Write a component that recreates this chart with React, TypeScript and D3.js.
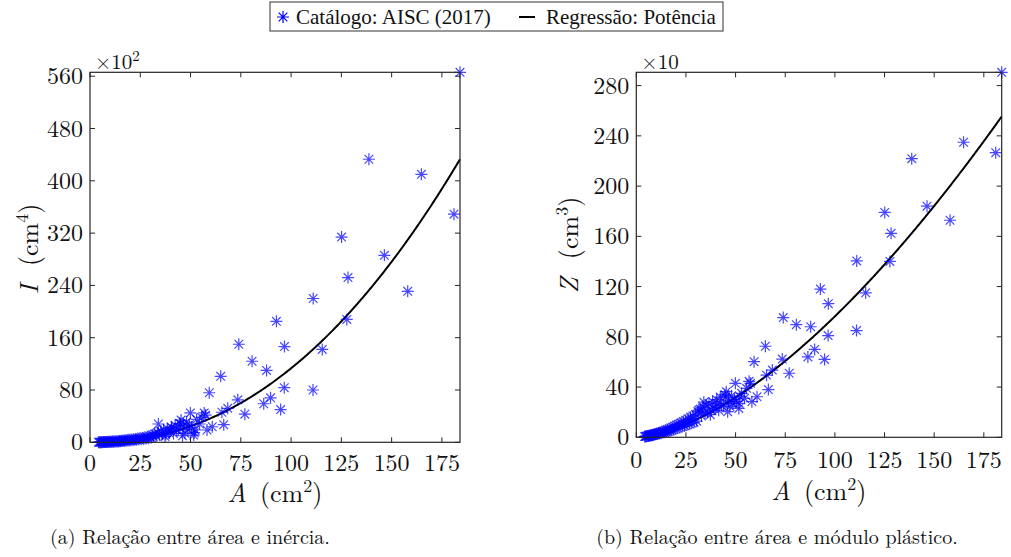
import React from "react";
import * as d3 from "d3";

// W-shape sections: gross area, moment of inertia and plastic modulus
const areaCm2 = [
  4.2, 4.6, 5.0, 5.3, 5.7, 6.1, 6.5, 6.8, 7.2, 7.6, 8.0, 8.3, 8.7, 9.1, 9.5, 9.9,
  10.3, 10.7, 11.2, 11.6, 12.0, 12.4, 12.9, 13.3, 13.8, 14.2, 14.7, 15.1, 15.6, 16.0,
  16.5, 17.0, 17.4, 17.9, 18.4, 18.9, 19.4, 19.9, 20.4, 20.9, 21.5, 22.0, 22.6, 23.1,
  23.7, 24.3, 24.9, 25.5, 26.1, 26.7, 27.3, 27.9, 28.5, 29.1, 29.8, 30.4, 31.0, 31.5,
  32.2, 32.8, 33.5, 34.0, 34.6, 35.2, 35.9, 36.6, 37.3, 37.7, 38.4, 39.1, 39.8, 40.5,
  40.7, 41.5, 42.3, 43.0, 43.9, 44.6, 45.0, 45.3, 46.0, 46.5, 47.2, 48.0, 48.6, 49.4,
  49.9, 50.5, 51.6, 51.8, 52.2, 53.0, 54.5, 55.5, 56.8, 57.5, 58.2, 59.3, 60.8,
  65.0, 65.6, 66.5, 68.5, 73.5, 74.0, 77.0, 80.6, 86.4, 87.8, 89.8, 92.7, 94.8,
  96.6, 96.7, 110.9, 111.0, 115.5, 125.1, 127.7, 128.3, 138.7, 146.4, 158.0, 164.8,
  181.0, 184.0,
];

const inertiaCm4 = [
  10, 12, 18, 15, 26, 22, 35, 30, 48, 40, 56, 45, 70, 62, 85, 74,
  100, 88, 118, 95, 132, 110, 155, 128, 178, 140, 205, 160, 230, 185,
  262, 210, 300, 235, 340, 262, 380, 290, 430, 320, 470, 350, 520, 390,
  580, 430, 640, 470, 700, 520, 780, 570, 850, 620, 930, 680, 1100, 900,
  1300, 950, 1450, 2800, 1150, 1700, 1250, 1900, 900, 1200, 2100, 1500, 1700, 2300,
  2200, 1350, 2600, 1900, 1880, 2900, 2800, 3400, 1000, 2500, 1370, 3100, 2000, 2700,
  4500, 2300, 1100, 1470, 1880, 3500, 2800, 3800, 4500, 4170, 1880, 7580, 2380,
  10100, 4600, 2700, 5200, 6500, 15000, 4300, 12400, 5900, 11000, 6800, 18500, 5000,
  8350, 14650, 8000, 22000, 14200, 31400, 18800, 25200, 43300, 28600, 23100, 41000,
  34900, 56600,
];

const plasticModulusCm3 = [
  6, 7, 9, 8, 11, 10, 14, 12, 17, 15, 19, 16, 23, 21, 27, 24,
  30, 27, 35, 30, 38, 33, 44, 38, 49, 40, 55, 44, 60, 48,
  67, 53, 74, 58, 82, 62, 90, 68, 99, 74, 106, 79, 115, 86,
  126, 92, 136, 98, 147, 106, 160, 113, 170, 120, 182, 128, 205, 217,
  225, 170, 240, 280, 195, 255, 200, 270, 180, 217, 285, 230, 240, 300,
  270, 215, 320, 255, 260, 340, 320, 363, 204, 290, 245, 330, 270, 300,
  430, 285, 230, 270, 323, 350, 310, 390, 446, 430, 284, 602, 323,
  725, 495, 380, 535, 623, 953, 510, 897, 640, 880, 700, 1180, 620,
  810, 1064, 850, 1404, 1150, 1790, 1400, 1624, 2218, 1840, 1728, 2349,
  2266, 2906,
];

const areaTicks = [0, 25, 50, 75, 100, 125, 150, 175];
const inertiaTicks = [0, 80, 160, 240, 320, 400, 480, 560];
const modulusTicks = [0, 40, 80, 120, 160, 200, 240, 280];

// Power-law regressions  y = coef * A^power
const inertiaFit = { coef: 0.4507, power: 2.2 };
const modulusFit = { coef: 0.6075, power: 1.6 };

const legendLabels = ["Catálogo: AISC (2017)", "Regressão: Potência"];
const captions = [
  "(a) Relação entre área e inércia.",
  "(b) Relação entre área e módulo plástico.",
];

const MATH_FONT = "'Latin Modern Roman', 'Liberation Serif', serif";
const LEGEND_FONT = "'Liberation Serif', 'Times New Roman', serif";
const BLUE = "#0000ff";
const AXIS = "#262626";
const TEXT = "#111";
const TICK = 5;

function starPath(r: number) {
  const d = r * 0.72;
  return `M${-r},0H${r}M0,${-r}V${r}M${-d},${-d}L${d},${d}M${-d},${d}L${d},${-d}`;
}
const STAR = starPath(6);

type PanelProps = {
  left: number;
  right: number;
  top: number;
  bottom: number;
  values: number[];
  divisor: number;
  yTicks: number[];
  exponent: string;
  fit: { coef: number; power: number };
  yVar: string;
  yUnitPow: string;
  yLabelX: number;
  yLabelY: number;
  xTickY: number;
  xLabelY: number;
  caption: string;
  captionX: number;
};

function Panel(p: PanelProps) {
  const maxA = d3.max(areaCm2) as number;
  const minA = d3.min(areaCm2) as number;
  const scaled = p.values.map((v) => v / p.divisor);
  const x = d3.scaleLinear().domain([0, maxA]).range([p.left, p.right]);
  const y = d3
    .scaleLinear()
    .domain([0, d3.max(scaled) as number])
    .range([p.bottom, p.top]);

  const fitPts: [number, number][] = d3.range(0, 361).map((i) => {
    const a = minA + ((maxA - minA) * i) / 360;
    return [a, (p.fit.coef * Math.pow(a, p.fit.power)) / p.divisor];
  });
  const line = d3
    .line<[number, number]>()
    .x((d) => x(d[0]))
    .y((d) => y(d[1]));

  const cx = (p.left + p.right) / 2;
  const mathStyle = { fontFamily: MATH_FONT };

  return (
    <g>
      {/* tick marks on all four sides, pointing inward */}
      {areaTicks.map((t) => (
        <g key={"xt" + t} stroke={AXIS} strokeWidth={1}>
          <line x1={x(t)} x2={x(t)} y1={p.bottom} y2={p.bottom - TICK} />
          <line x1={x(t)} x2={x(t)} y1={p.top} y2={p.top + TICK} />
        </g>
      ))}
      {p.yTicks.map((t) => (
        <g key={"yt" + t} stroke={AXIS} strokeWidth={1}>
          <line x1={p.left} x2={p.left + TICK} y1={y(t)} y2={y(t)} />
          <line x1={p.right} x2={p.right - TICK} y1={y(t)} y2={y(t)} />
        </g>
      ))}

      {/* fitted curve */}
      <path d={line(fitPts) || ""} fill="none" stroke="#000" strokeWidth={2} />

      {/* catalogue points */}
      <g stroke={BLUE} strokeWidth={1.2} fill="none" strokeOpacity={0.72}>
        {areaCm2.map((a, i) => (
          <path key={i} d={STAR} transform={`translate(${x(a)},${y(scaled[i])})`} />
        ))}
      </g>

      {/* box */}
      <rect
        x={p.left}
        y={p.top}
        width={p.right - p.left}
        height={p.bottom - p.top}
        fill="none"
        stroke={AXIS}
        strokeWidth={1.2}
      />

      {/* tick labels */}
      <g style={mathStyle} fontSize={24} fill={TEXT}>
        {areaTicks.map((t) => (
          <text key={"xl" + t} x={x(t)} y={p.xTickY} textAnchor="middle">
            {t}
          </text>
        ))}
        {p.yTicks.map((t) => (
          <text key={"yl" + t} x={p.left - 7} y={y(t) + 8} textAnchor="end">
            {t}
          </text>
        ))}
      </g>

      {/* exponent multiplier */}
      <text x={p.left + 5} y={p.top - 3} style={mathStyle} fontSize={21} fill={TEXT}>
        ×10
        {p.exponent && (
          <tspan dy={-8} fontSize={15}>
            {p.exponent}
          </tspan>
        )}
      </text>

      {/* x label */}
      <text x={cx} y={p.xLabelY} textAnchor="middle" style={mathStyle} fontSize={26} fill={TEXT}>
        <tspan fontStyle="italic">A</tspan>
        <tspan>{"\u00a0(cm"}</tspan>
        <tspan dy={-10} fontSize={18}>
          2
        </tspan>
        <tspan dy={10}>)</tspan>
      </text>

      {/* y label */}
      <text
        transform={`translate(${p.yLabelX},${p.yLabelY}) rotate(-90)`}
        textAnchor="middle"
        style={mathStyle}
        fontSize={26}
        fill={TEXT}
      >
        <tspan fontStyle="italic">{p.yVar}</tspan>
        <tspan>{"\u00a0\u2009(cm"}</tspan>
        <tspan dy={-10} fontSize={18}>
          {p.yUnitPow}
        </tspan>
        <tspan dy={10}>)</tspan>
      </text>

      {/* caption */}
      <text x={p.captionX} y={544} textAnchor="middle" style={mathStyle} fontSize={20} fill={TEXT}>
        {p.caption}
      </text>
    </g>
  );
}

export default function App() {
  return (
    <svg
      width={1011}
      height={557}
      style={{ position: "absolute", left: 0, top: 0, background: "#fff" }}
    >
      <rect x={0} y={0} width={1011} height={557} fill="#fff" />

      {/* legend */}
      <g style={{ fontFamily: LEGEND_FONT }} fontSize={21} fill={TEXT}>
        <rect x={270} y={2} width={453} height={29} fill="#fff" stroke="#333" strokeWidth={1} />
        <path d={STAR} transform="translate(283,17)" stroke={BLUE} strokeWidth={1.2} fill="none" />
        <text x={296} y={24}>
          {legendLabels[0]}
        </text>
        <line x1={519} x2={535} y1={17} y2={17} stroke="#000" strokeWidth={2} />
        <text x={546} y={24}>
          {legendLabels[1]}
        </text>
      </g>

      <Panel
        left={90}
        right={460}
        top={72.3}
        bottom={442.3}
        values={inertiaCm4}
        divisor={100}
        yTicks={inertiaTicks}
        exponent="2"
        fit={inertiaFit}
        yVar="I"
        yUnitPow="4"
        yLabelX={38}
        yLabelY={249}
        xTickY={471}
        xLabelY={502}
        caption={captions[0]}
        captionX={190}
      />
      <Panel
        left={636.3}
        right={1001.7}
        top={72.3}
        bottom={437.3}
        values={plasticModulusCm3}
        divisor={10}
        yTicks={modulusTicks}
        exponent=""
        fit={modulusFit}
        yVar="Z"
        yUnitPow="3"
        yLabelX={578}
        yLabelY={245}
        xTickY={468}
        xLabelY={500}
        caption={captions[1]}
        captionX={777}
      />
    </svg>
  );
}
